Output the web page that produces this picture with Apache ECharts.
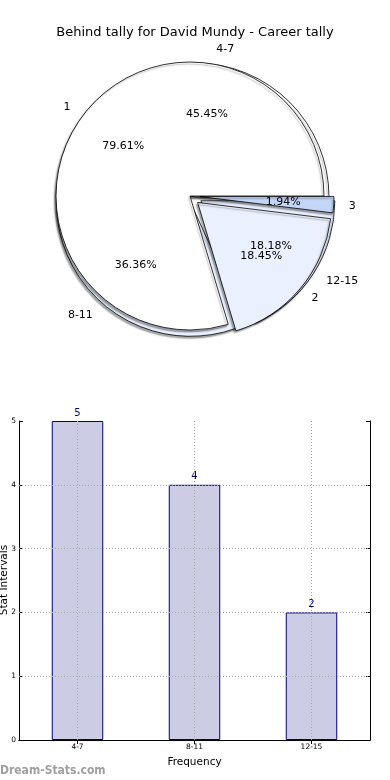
<!DOCTYPE html>
<html>
<head>
<meta charset="utf-8">
<script src="https://cdn.jsdelivr.net/npm/echarts@6/dist/echarts.min.js"></script>
<style>
html,body{margin:0;padding:0;background:#fff;}
#c{width:390px;height:780px;}
</style>
</head>
<body>
<div id="c"></div>
<script>
// ---- data ----
const titleText = 'Behind tally for David Mundy - Career tally';
const pieANames = ['1', '2', '3'];
const pieAValues = [79.61, 18.45, 1.94];
const pieBNames = ['4-7', '8-11', '12-15'];
const pieBValues = [5, 4, 2];
const barCategories = ['4-7', '8-11', '12-15'];
const barValues = [5, 4, 2];
const yTicks = [0, 1, 2, 3, 4, 5];
const xAxisName = 'Frequency';
const yAxisName = 'Stat Intervals';
const watermark = 'Dream-Stats.com';

// ---- styles ----
const pieAColors = ['#ffffff', '#eaf0fe', '#c4d6f8'];
const pieBColors = ['#ffffff', '#eaf0fe', '#eaf0fe'];
const pieAExploded = [false, true, true];
const pieBExploded = [false, true, true];
const RA = 134, RB = 134;
const centerA = [190, 196], centerB = [195, 197];
const FONT = 'DejaVu Sans';

const baseItem = {
  borderColor: '#000', borderWidth: 0.8,
  shadowColor: 'rgba(0,0,0,0.35)', shadowBlur: 1.5, shadowOffsetX: -1.5, shadowOffsetY: 2
};

function fillSeries(names, values, colors, exploded, center, R, offset, z) {
  return {
    type: 'pie', z: z, center: center, radius: R, startAngle: 0, clockwise: false,
    selectedMode: 'multiple', selectedOffset: offset, avoidLabelOverlap: false,
    silent: true, animation: false,
    label: { show: true, position: 'outside', color: '#000', fontFamily: FONT, fontSize: 11,
             distanceToLabelLine: 0, formatter: '{b}' },
    labelLine: { show: false, length: Math.round(R * 0.11), length2: 0 },
    labelLayout: { hideOverlap: false },
    emphasis: { disabled: true },
    data: names.map((n, i) => ({
      name: n, value: values[i], selected: exploded[i],
      itemStyle: Object.assign({ color: colors[i] }, baseItem),
      select: { itemStyle: Object.assign({ color: colors[i] }, baseItem) }
    }))
  };
}
function pctSeries(names, values, exploded, center, R, offset, z) {
  const total = values.reduce((a, b) => a + b, 0);
  return {
    type: 'pie', z: z, center: center, radius: [R * 0.2, R], startAngle: 0, clockwise: false,
    selectedMode: 'multiple', selectedOffset: offset, avoidLabelOverlap: false,
    silent: true, animation: false,
    label: { show: true, position: 'inside', color: '#000', fontFamily: FONT, fontSize: 11,
             formatter: p => (p.value / total * 100).toFixed(2) + '%' },
    labelLine: { show: false },
    labelLayout: { hideOverlap: false },
    emphasis: { disabled: true },
    data: names.map((n, i) => ({
      name: n, value: values[i], selected: exploded[i],
      itemStyle: { color: 'rgba(0,0,0,0)', borderWidth: 0 },
      select: { itemStyle: { color: 'rgba(0,0,0,0)', borderWidth: 0 } }
    }))
  };
}

const gridLine = { type: [1, 2], color: '#a8a8a8', width: 1 };

const option = {
  backgroundColor: '#fff',
  animation: false,
  title: {
    text: titleText, left: 'center', top: 21,
    textStyle: { fontFamily: FONT, fontSize: 13, fontWeight: 'normal', color: '#000' }
  },
  grid: { left: 19, right: 20, top: 421, bottom: 40, containLabel: false, outerBoundsMode: 'none',
          show: false },
  xAxis: [
    { type: 'category', data: barCategories, position: 'bottom',
      name: xAxisName, nameLocation: 'middle', nameGap: 17,
      nameTextStyle: { fontFamily: FONT, fontSize: 10.5, color: '#000' },
      axisLine: { show: true, lineStyle: { color: '#000', width: 1 } },
      axisTick: { show: true, inside: true, alignWithLabel: true, length: 4, lineStyle: { color: '#000' } },
      axisLabel: { fontFamily: FONT, fontSize: 7.5, color: '#000', margin: 3 },
      splitLine: { show: false } },
    { type: 'category', data: barCategories, position: 'top',
      axisLine: { show: true, lineStyle: { color: '#000', width: 1 } },
      axisTick: { show: true, inside: true, alignWithLabel: true, length: 4, lineStyle: { color: '#000' } },
      axisLabel: { show: false }, splitLine: { show: false } }
  ],
  yAxis: [
    { type: 'value', min: 0, max: 5, interval: 1, position: 'left',
      axisLine: { show: true, lineStyle: { color: '#000', width: 1 } },
      axisTick: { show: true, inside: true, length: 4, lineStyle: { color: '#000' } },
      axisLabel: { fontFamily: FONT, fontSize: 7.5, color: '#000', margin: 3 },
      splitLine: { show: false } },
    { type: 'value', min: 0, max: 5, interval: 1, position: 'right',
      axisLine: { show: true, lineStyle: { color: '#000', width: 1 } },
      axisTick: { show: true, inside: true, length: 4, lineStyle: { color: '#000' } },
      axisLabel: { show: false }, splitLine: { show: false } }
  ],
  graphic: [
    { type: 'text', x: 4, y: 580, rotation: Math.PI / 2,
      style: { text: yAxisName, fontFamily: FONT, fontSize: 10.5, fill: '#000',
               textAlign: 'center', textVerticalAlign: 'middle' } },
    { type: 'text', left: 0, top: 765,
      style: { text: watermark, fontFamily: 'DejaVu Sans Condensed', fontSize: 12, fontWeight: 'bold', fill: '#a0a0a0' } }
  ],
  series: [
    fillSeries(pieBNames, pieBValues, pieBColors, pieBExploded, centerB, RB, 7, 2),
    fillSeries(pieANames, pieAValues, pieAColors, pieAExploded, centerA, RA, 10, 3),
    pctSeries(pieBNames, pieBValues, pieBExploded, centerB, RB, 7, 5),
    pctSeries(pieANames, pieAValues, pieAExploded, centerA, RA, 10, 6),
    {
      type: 'bar', xAxisIndex: 0, yAxisIndex: 0, data: barValues, barWidth: '44%',
      silent: true,
      itemStyle: { color: '#ccccE5', borderColor: '#000080', borderWidth: 1 },
      label: { show: true, position: 'top', distance: 3, color: '#000080', fontFamily: FONT, fontSize: 10 },
      markLine: {
        silent: true, symbol: 'none', label: { show: false },
        lineStyle: gridLine,
        data: barCategories.map(c => ({ xAxis: c }))
          .concat(yTicks.filter(v => v > 0 && v < 5).map(v => ({ yAxis: v })))
      }
    }
  ]
};

const chart = echarts.init(document.getElementById('c'), null, { renderer: 'canvas' });
chart.setOption(option);
</script>
</body>
</html>
